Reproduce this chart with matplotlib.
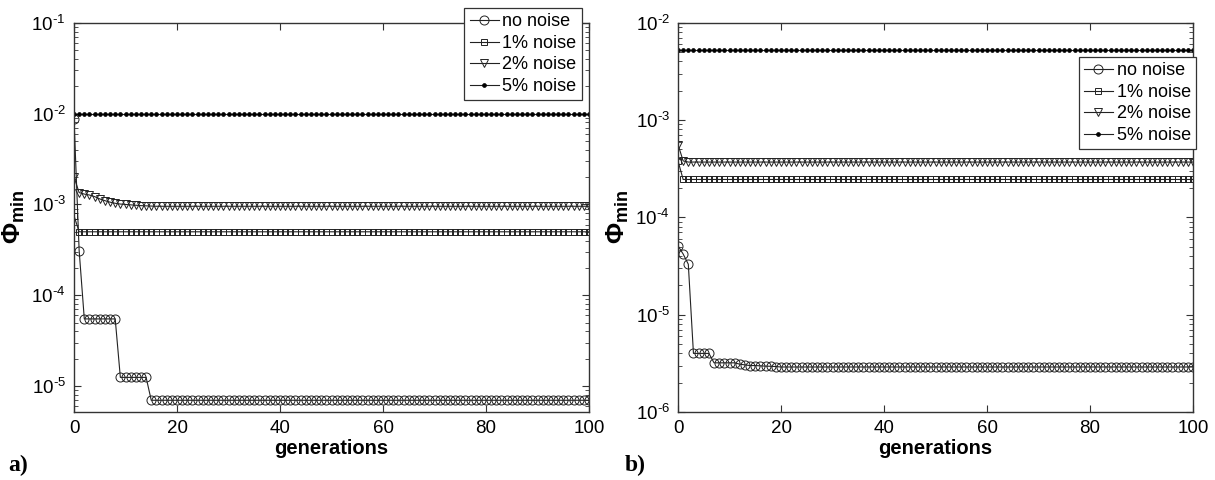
import matplotlib
matplotlib.use("Agg")
import matplotlib.pyplot as plt
from matplotlib.ticker import LogLocator, FixedLocator, NullFormatter, FixedFormatter

plt.rcParams['font.family'] = ['Liberation Sans', 'DejaVu Sans']
plt.rcParams['mathtext.fontset'] = 'custom'
plt.rcParams['mathtext.rm'] = 'Liberation Sans'
plt.rcParams['mathtext.it'] = 'Liberation Sans:italic'
plt.rcParams['mathtext.bf'] = 'Liberation Sans:bold'

# ---------------- data ----------------
gens = list(range(101))
series_labels = ["no noise", "1% noise", "2% noise", "5% noise"]

a_none = [8.8e-3, 3.1e-4] + [5.5e-5] * 7 + [1.25e-5] * 6 + [7.0e-6] * 86
a_1 = [7.5e-4] + [5.0e-4] * 100
a_2 = [2.0e-3, 1.35e-3, 1.3e-3, 1.27e-3, 1.22e-3, 1.15e-3, 1.1e-3, 1.06e-3,
       1.03e-3, 1.01e-3, 1.0e-3, 0.99e-3, 0.98e-3, 0.97e-3, 0.965e-3, 0.96e-3] + [0.955e-3] * 85
a_5 = [1.0e-2] * 101

b_none = [5.1e-5, 4.2e-5, 3.3e-5, 4.0e-6, 4.0e-6, 4.0e-6, 4.0e-6, 3.2e-6, 3.2e-6, 3.2e-6,
          3.2e-6, 3.2e-6, 3.1e-6, 3.05e-6, 3.0e-6, 3.0e-6, 2.98e-6, 2.96e-6, 2.95e-6, 2.93e-6] + [2.9e-6] * 81
b_1 = [3.8e-4] + [2.45e-4] * 100
b_2 = [5.6e-4, 3.8e-4] + [3.7e-4] * 99
b_5 = [5.2e-3] * 101

a_ylim = (5.2e-6, 1e-1)
b_ylim = (1e-6, 1e-2)
a_yticks = [1e-5, 1e-4, 1e-3, 1e-2, 1e-1]
a_yticklabels = ['$\\mathregular{10^{\u20105}}$', '$\\mathregular{10^{\u20104}}$', '$\\mathregular{10^{\u20103}}$',
                 '$\\mathregular{10^{\u20102}}$', '$\\mathregular{10^{\u20101}}$']
b_yticks = [1e-6, 1e-5, 1e-4, 1e-3, 1e-2]
b_yticklabels = ['$\\mathregular{10^{\u20106}}$', '$\\mathregular{10^{\u20105}}$', '$\\mathregular{10^{\u20104}}$',
                 '$\\mathregular{10^{\u20103}}$', '$\\mathregular{10^{\u20102}}$']
xticks = [0, 20, 40, 60, 80, 100]

# ---------------- styling ----------------
styles = [
    dict(marker='o', ms=6.5, mfc='none', mec='#222222', mew=0.7),
    dict(marker='s', ms=4.8, mfc='none', mec='#222222', mew=0.7),
    dict(marker='v', ms=6.0, mfc='none', mec='#222222', mew=0.7),
    dict(marker='o', ms=2.8, mfc='black', mec='black', mew=0.5),
]

fig = plt.figure(figsize=(12.15, 4.8), dpi=100)
W, H = 1215.0, 480.0
ax1 = fig.add_axes([74 / W, 68 / H, 515 / W, 389.3 / H])
ax2 = fig.add_axes([678 / W, 68 / H, 515 / W, 389.3 / H])


def draw(ax, data, ylim, yticks, yticklabels, legend_anchor):
    for vals, st, lab in zip(data, styles, series_labels):
        ax.plot(gens, vals, color='#222222', lw=0.8, label=lab, **st)
    ax.set_yscale('log')
    ax.set_ylim(*ylim)
    ax.set_xlim(0, 100)
    ax.xaxis.set_major_locator(FixedLocator(xticks))
    ax.yaxis.set_major_locator(FixedLocator(yticks))
    ax.yaxis.set_major_formatter(FixedFormatter(yticklabels))
    ax.yaxis.set_minor_locator(LogLocator(base=10, subs=range(2, 10), numticks=20))
    ax.yaxis.set_minor_formatter(NullFormatter())
    ax.tick_params(which='both', direction='in', top=True, right=True, color='#333333')
    ax.tick_params(which='major', length=5, labelsize=13.5, pad=6)
    ax.tick_params(which='minor', length=3)
    for sp in ax.spines.values():
        sp.set_color('#333333')
        sp.set_linewidth(1.0)
    ax.set_xlabel('generations', fontsize=14.5, fontweight='bold', labelpad=1)
    ax.set_ylabel(r'$\mathbf{\Phi_{min}}$', fontsize=18.5, labelpad=3)
    leg = ax.legend(loc='upper right', bbox_to_anchor=legend_anchor, fontsize=13,
                    numpoints=1, handlelength=1.6, handletextpad=0.2,
                    borderpad=0.3, labelspacing=0.25, borderaxespad=0.0,
                    fancybox=False, framealpha=1.0, edgecolor='#333333')
    leg.get_frame().set_linewidth(0.9)
    leg.set_zorder(10)


draw(ax1, [a_none, a_1, a_2, a_5], a_ylim, a_yticks, a_yticklabels, (0.986, 1.038))
draw(ax2, [b_none, b_1, b_2, b_5], b_ylim, b_yticks, b_yticklabels, (1.006, 0.912))

fig.text(8 / W, 1 - 465 / H, 'a)', fontsize=17, fontweight='bold',
         family=['Liberation Serif', 'DejaVu Serif'], va='center', ha='left')
fig.text(625 / W, 1 - 465 / H, 'b)', fontsize=17, fontweight='bold',
         family=['Liberation Serif', 'DejaVu Serif'], va='center', ha='left')

fig.savefig('out.png', dpi=100)
